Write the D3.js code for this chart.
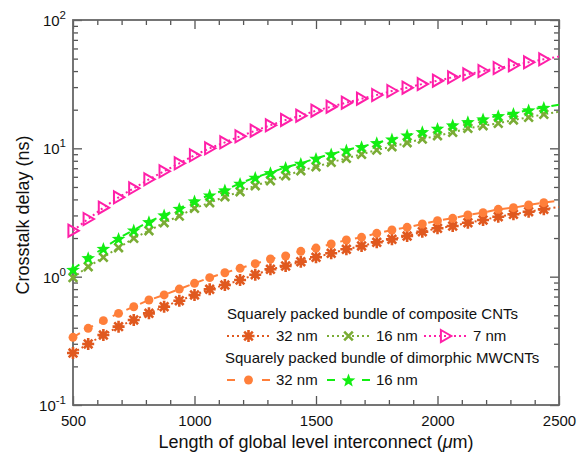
<!DOCTYPE html>
<html>
<head>
<meta charset="utf-8">
<script src="https://cdn.jsdelivr.net/npm/d3@7"></script>
<style>
  html, body { margin: 0; padding: 0; background: #fff; }
  svg { display: block; font-family: Arial, "Liberation Sans", sans-serif; }
</style>
</head>
<body>
<svg id="chart" width="578" height="455"></svg>
<script>
// Interconnect length (um)
const lengths = [500, 562.5, 625, 687.5, 750, 812.5, 875, 937.5, 1000, 1062.5, 1125, 1187.5,
  1250, 1312.5, 1375, 1437.5, 1500, 1562.5, 1625, 1687.5, 1750, 1812.5, 1875, 1937.5,
  2000, 2062.5, 2125, 2187.5, 2250, 2312.5, 2375, 2437.5, 2500];

// Crosstalk delay (ns), squarely packed bundle of composite CNTs
const composite32 = [0.254, 0.299, 0.351, 0.408, 0.460, 0.518, 0.583, 0.650, 0.720, 0.797, 0.861,
  0.942, 1.036, 1.141, 1.211, 1.308, 1.415, 1.521, 1.634, 1.734, 1.852, 1.955, 2.074, 2.240,
  2.381, 2.481, 2.633, 2.764, 2.933, 3.061, 3.208, 3.349, 3.490];
const composite16 = [0.985, 1.196, 1.415, 1.681, 1.990, 2.281, 2.633, 2.970, 3.409, 3.770, 4.199,
  4.592, 5.114, 5.594, 6.118, 6.694, 7.192, 7.783, 8.363, 8.985, 9.705, 10.30, 11.06, 11.82,
  12.54, 13.33, 14.33, 15.01, 15.67, 16.63, 17.45, 18.42, 19.29];
const composite7 = [2.281, 2.814, 3.446, 4.153, 4.881, 5.738, 6.622, 7.645, 8.825, 10.00, 11.14,
  12.41, 13.72, 15.12, 16.63, 17.96, 19.65, 21.10, 22.68, 24.36, 26.04, 27.97, 29.69, 31.71,
  33.65, 35.77, 37.75, 40.05, 42.27, 44.36, 46.81, 49.40, 51.94];

// Crosstalk delay (ns), squarely packed bundle of dimorphic MWCNTs
const dimorphic32 = [0.337, 0.396, 0.454, 0.518, 0.583, 0.658, 0.720, 0.801, 0.888, 0.982, 1.073,
  1.162, 1.262, 1.373, 1.449, 1.576, 1.672, 1.797, 1.931, 2.026, 2.177, 2.310, 2.425, 2.572,
  2.729, 2.849, 3.024, 3.151, 3.349, 3.446, 3.618, 3.770, 3.922];
const dimorphic16 = [1.141, 1.405, 1.663, 1.990, 2.310, 2.681, 3.024, 3.409, 3.887, 4.328, 4.735,
  5.340, 5.947, 6.458, 7.115, 7.645, 8.363, 9.033, 9.705, 10.30, 11.06, 11.82, 12.70, 13.48,
  14.33, 15.20, 16.13, 16.93, 17.96, 18.75, 19.90, 20.88, 21.88];

// Axis ticks
const xMajorTicks = [500, 1000, 1500, 2000, 2500];
const xMinorTicks = [600, 700, 800, 900, 1100, 1200, 1300, 1400, 1600, 1700, 1800, 1900, 2100, 2200, 2300, 2400];
const yMajorTicks = [0.1, 1, 10, 100];
const yTickExponents = ["-1", "0", "1", "2"];

const svg = d3.select("#chart");
const plotLeft = 73, plotRight = 559, plotTop = 20, plotBottom = 405;

const x = d3.scaleLinear().domain([500, 2500]).range([plotLeft, plotRight]);
const y = d3.scaleLog().domain([0.1, 100]).range([plotBottom, plotTop]);

const yMinorTicks = [];
[0.1, 1, 10].forEach(d => { for (let m = 2; m <= 9; m++) yMinorTicks.push(d * m); });

// ---- marker shapes ----
const markerPaths = {
  asterisk: "M-6,0H6M0,-6V6M-4.3,-4.3L4.3,4.3M-4.3,4.3L4.3,-4.3",
  cross: "M-4.3,-4.3L4.3,4.3M-4.3,4.3L4.3,-4.3",
  triangle: "M-4.6,-6L5.8,0L-4.6,6Z",
  circle: d3.symbol().type(d3.symbolCircle).size(62)(),
  star: (() => {
    const pts = [];
    for (let i = 0; i < 10; i++) {
      const r = i % 2 === 0 ? 7.2 : 3.0;
      const a = -Math.PI / 2 + i * Math.PI / 5;
      pts.push([r * Math.cos(a), r * Math.sin(a) + 0.8]);
    }
    return "M" + pts.map(p => p.join(",")).join("L") + "Z";
  })()
};

const series = [
  { name: "composite32", values: composite32, color: "#e0591f", dash: "2,3", legendDash: "2,3", marker: "asterisk", fill: "none", sw: 2.6 },
  { name: "dimorphic32", values: dimorphic32, color: "#ff7f3a", dash: "8,7", legendDash: "8,27", marker: "circle", fill: "#ff7f3a", sw: 0 },
  { name: "composite16", values: composite16, color: "#7aac35", dash: "2,3", legendDash: "2,3", marker: "cross", fill: "none", sw: 2.6 },
  { name: "dimorphic16", values: dimorphic16, color: "#12ee12", dash: "8,7", legendDash: "8,27", marker: "star", fill: "#12ee12", sw: 0 },
  { name: "composite7", values: composite7, color: "#ff1fa8", dash: "2,3", legendDash: "2,3", marker: "triangle", fill: "none", sw: 2 }
];

// ---- axes (ticks point inward, mirrored on top and right) ----
const axisColor = "#555";
function styleAxis(g) {
  g.select(".domain").remove();
  g.selectAll(".tick line").attr("stroke", axisColor).attr("stroke-width", 1.3);
}

svg.append("g").attr("transform", `translate(0,${plotBottom})`)
  .call(d3.axisBottom(x).tickValues(xMajorTicks).tickSizeInner(-9).tickSizeOuter(0).tickPadding(10).tickFormat(d3.format("d")))
  .call(styleAxis)
  .call(g => g.selectAll(".tick text").attr("font-size", 15).attr("fill", "#111")
    .attr("font-family", "Arial, 'Liberation Sans', sans-serif"));
svg.append("g").attr("transform", `translate(0,${plotBottom})`)
  .call(d3.axisBottom(x).tickValues(xMinorTicks).tickSizeInner(-5).tickSizeOuter(0).tickFormat(""))
  .call(styleAxis);
svg.append("g").attr("transform", `translate(0,${plotTop})`)
  .call(d3.axisTop(x).tickValues(xMajorTicks).tickSizeInner(-9).tickSizeOuter(0).tickFormat(""))
  .call(styleAxis);
svg.append("g").attr("transform", `translate(0,${plotTop})`)
  .call(d3.axisTop(x).tickValues(xMinorTicks).tickSizeInner(-5).tickSizeOuter(0).tickFormat(""))
  .call(styleAxis);

svg.append("g").attr("transform", `translate(${plotLeft},0)`)
  .call(d3.axisLeft(y).tickValues(yMajorTicks).tickSizeInner(-9).tickSizeOuter(0).tickFormat(""))
  .call(styleAxis);
svg.append("g").attr("transform", `translate(${plotLeft},0)`)
  .call(d3.axisLeft(y).tickValues(yMinorTicks).tickSizeInner(-5).tickSizeOuter(0).tickFormat(""))
  .call(styleAxis);
svg.append("g").attr("transform", `translate(${plotRight},0)`)
  .call(d3.axisRight(y).tickValues(yMajorTicks).tickSizeInner(-9).tickSizeOuter(0).tickFormat(""))
  .call(styleAxis);
svg.append("g").attr("transform", `translate(${plotRight},0)`)
  .call(d3.axisRight(y).tickValues(yMinorTicks).tickSizeInner(-5).tickSizeOuter(0).tickFormat(""))
  .call(styleAxis);

// y tick labels as powers of ten
const yLabels = svg.append("g").attr("font-size", 15).attr("fill", "#111");
yMajorTicks.forEach((v, i) => {
  const t = yLabels.append("text")
    .attr("x", 66).attr("y", y(v) + 6)
    .attr("text-anchor", "end");
  t.append("tspan").text("10");
  t.append("tspan").attr("font-size", 11.5).attr("dy", -7).text(yTickExponents[i]);
});

// frame
svg.append("rect")
  .attr("x", plotLeft).attr("y", plotTop)
  .attr("width", plotRight - plotLeft).attr("height", plotBottom - plotTop)
  .attr("fill", "none").attr("stroke", "#666").attr("stroke-width", 1.8);

// ---- data lines and markers ----
const line = d3.line().x((d, i) => x(lengths[i])).y(d => y(d));

const plot = svg.append("g");
series.forEach(s => {
  plot.append("path")
    .datum(s.values)
    .attr("d", line)
    .attr("fill", "none")
    .attr("stroke", s.color)
    .attr("stroke-width", 2)
    .attr("stroke-dasharray", s.dash);
});
series.forEach(s => {
  plot.append("g").selectAll("path")
    .data(s.values.map((v, i) => [lengths[i], v]).filter(d => d[0] < 2500))
    .join("path")
    .attr("transform", d => `translate(${x(d[0])},${y(d[1])})`)
    .attr("d", markerPaths[s.marker])
    .attr("fill", s.fill)
    .attr("stroke", s.sw > 0 ? s.color : "none")
    .attr("stroke-width", s.sw);
});

// ---- axis titles ----
svg.append("text")
  .attr("x", 316).attr("y", 448)
  .attr("text-anchor", "middle").attr("font-size", 18).attr("fill", "#111")
  .html('Length of global level interconnect (<tspan font-style="italic">μ</tspan>m)');
svg.append("text")
  .attr("transform", "translate(29,215) rotate(-90)")
  .attr("text-anchor", "middle").attr("font-size", 18).attr("fill", "#111")
  .text("Crosstalk delay (ns)");

// ---- legend ----
const legend = svg.append("g").attr("font-size", 15).attr("fill", "#111");
legend.append("text").attr("x", 227).attr("y", 319).text("Squarely packed bundle of composite CNTs");
legend.append("text").attr("x", 225).attr("y", 363).text("Squarely packed bundle of dimorphic MWCNTs");

const legendEntries = [
  { s: series[0], x0: 227, y0: 336, label: "32 nm" },
  { s: series[2], x0: 327, y0: 336, label: "16 nm" },
  { s: series[4], x0: 424, y0: 336, label: "7 nm" },
  { s: series[1], x0: 227, y0: 380, label: "32 nm" },
  { s: series[3], x0: 327, y0: 380, label: "16 nm" }
];
legendEntries.forEach(e => {
  const g = legend.append("g");
  g.append("line")
    .attr("x1", e.x0).attr("x2", e.x0 + 43)
    .attr("y1", e.y0).attr("y2", e.y0)
    .attr("stroke", e.s.color).attr("stroke-width", 2)
    .attr("stroke-dasharray", e.s.legendDash);
  g.append("path")
    .attr("transform", `translate(${e.x0 + 21.5},${e.y0})`)
    .attr("d", markerPaths[e.s.marker])
    .attr("fill", e.s.fill)
    .attr("stroke", e.s.sw > 0 ? e.s.color : "none")
    .attr("stroke-width", e.s.sw);
  g.append("text").attr("x", e.x0 + 49).attr("y", e.y0 + 5).text(e.label);
});
</script>
</body>
</html>
